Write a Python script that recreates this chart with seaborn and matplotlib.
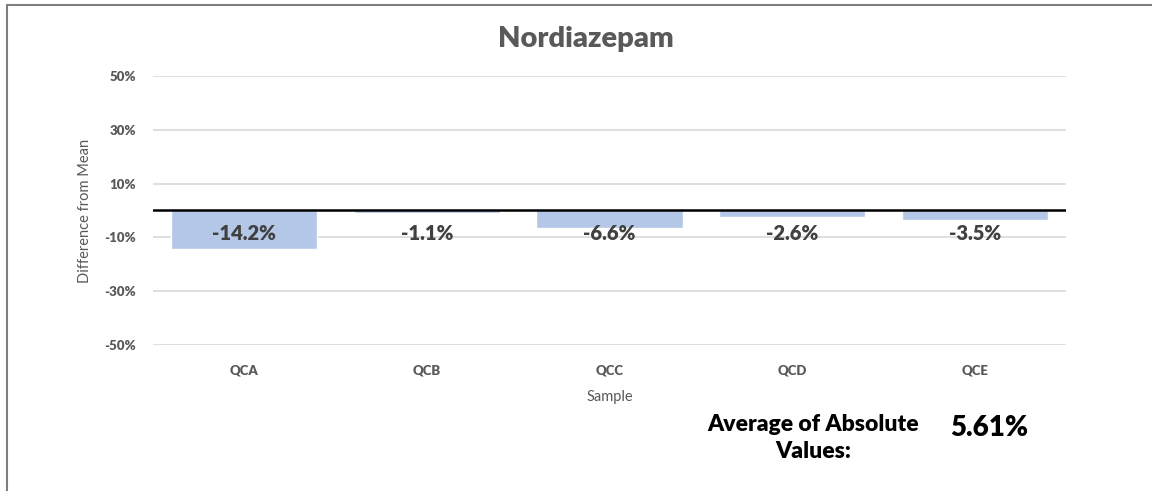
import numpy as np
import pandas as pd
import matplotlib
matplotlib.use("Agg")
import matplotlib.pyplot as plt
import seaborn as sns
from matplotlib.patches import Rectangle
from matplotlib.ticker import PercentFormatter

# Chart data
samples = ["QCA", "QCB", "QCC", "QCD", "QCE"]
diff_from_mean = [-0.142, -0.011, -0.066, -0.026, -0.035]
y_ticks = [-0.5, -0.3, -0.1, 0.1, 0.3, 0.5]
avg_abs = 0.0561

df = pd.DataFrame({"Sample": samples, "Diff": diff_from_mean})

sns.set_theme(style="white")
plt.rcParams["font.family"] = ["Lato", "DejaVu Sans"]
plt.rcParams["axes.unicode_minus"] = False

gray = "#595959"
bar_color = "#B4C7E7"
heavy = "heavy"

fig = plt.figure(figsize=(11.52, 4.91), dpi=100)
ax = fig.add_axes([0.1328, 0.2974, 0.7925, 0.5478])

sns.barplot(data=df, x="Sample", y="Diff", color=bar_color, width=0.8,
            saturation=1, ax=ax, zorder=2)

ax.set_ylim(-0.5, 0.5)
ax.set_yticks(y_ticks)
ax.yaxis.set_major_formatter(PercentFormatter(1.0, decimals=0))
ax.grid(axis="y", color="#d9d9d9", linewidth=1.2, zorder=0)
ax.set_axisbelow(True)
ax.axhline(0, color="black", linewidth=1.8, zorder=3)
for s in ax.spines.values():
    s.set_visible(False)
ax.tick_params(axis="both", length=0, labelsize=9.5, labelcolor=gray)
ax.tick_params(axis="x", pad=14)
ax.tick_params(axis="y", pad=12)
for lbl in ax.get_xticklabels() + ax.get_yticklabels():
    lbl.set_fontweight(heavy)

ax.set_xlabel("Sample", fontsize=10.5, color=gray, labelpad=10)
ax.set_ylabel("Difference from Mean", fontsize=10.5, color=gray, labelpad=9)

# title, centred on the chart area rather than the plot area
fig.text(586 / 1152, 1 - 39 / 491, "Nordiazepam", ha="center", va="center",
         fontsize=21, fontweight=heavy, color=gray)

# value labels
for i, v in enumerate(diff_from_mean):
    ax.text(i, -0.085, f"{v*100:.1f}%", ha="center", va="center",
            fontsize=14.5, fontweight=heavy, color="#404040", zorder=4)

# average of absolute values annotation
fig.text(813 / 1152, 1 - 438 / 491, "Average of Absolute\nValues:", ha="center",
         va="center", fontsize=16.5, fontweight=heavy, color="black",
         linespacing=1.4)
fig.text(989 / 1152, 1 - 428 / 491, f"{avg_abs*100:.2f}%", ha="center",
         va="center", fontsize=20, fontweight=heavy, color="black")

# chart frame
fig.patches.append(Rectangle((7 / 1152, -0.1), 1.2, 1 - 5 / 491 + 0.1,
                             transform=fig.transFigure, fill=False,
                             edgecolor="#7f7f7f", linewidth=1.5))

fig.savefig("out.png", dpi=100)
